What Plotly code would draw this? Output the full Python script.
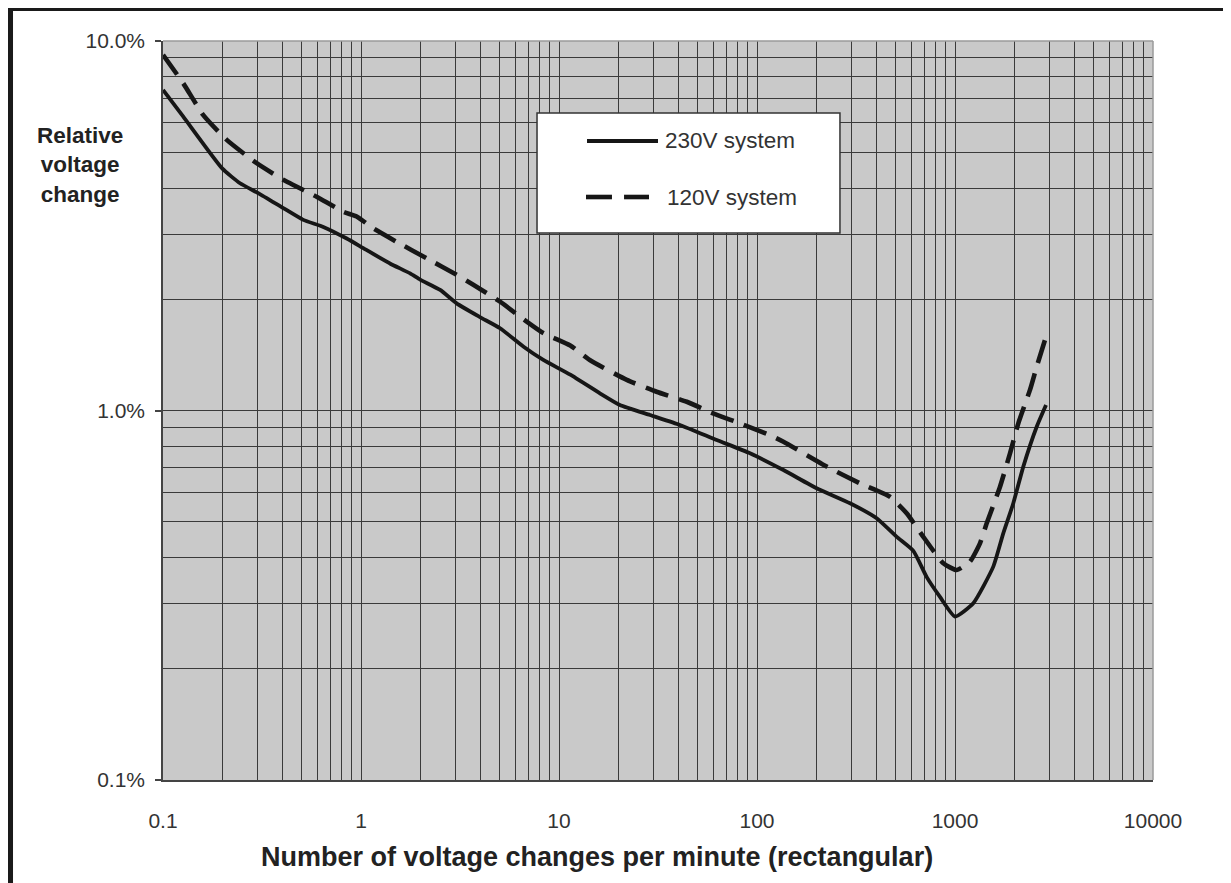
import plotly.graph_objects as go

# ---- data ----
x_230 = [0.1, 0.1266, 0.199, 0.245, 0.304, 0.405, 0.511, 0.645, 0.847, 1.027, 1.40, 1.77, 1.99,
         2.51, 3.04, 3.99, 5.04, 6.60, 8.33, 11.4, 16.1, 20.3, 28.8, 40.8, 62.6, 92.2, 136, 200,
         295, 402, 508, 616, 720, 840, 1000, 1237, 1561, 1753, 1970, 2213, 2586, 2882]
y_230 = [7.37, 6.24, 4.52, 4.12, 3.87, 3.53, 3.28, 3.14, 2.92, 2.75, 2.50, 2.35, 2.26,
         2.12, 1.95, 1.79, 1.67, 1.49, 1.37, 1.25, 1.113, 1.035, 0.972, 0.914, 0.832, 0.766, 0.690, 0.616,
         0.561, 0.511, 0.455, 0.417, 0.354, 0.313, 0.277, 0.301, 0.378, 0.465, 0.561, 0.705, 0.904, 1.035]

x_120 = [0.1, 0.1266, 0.1598, 0.2098, 0.2973, 0.405, 0.597, 0.814, 0.951, 1.154, 1.515, 2.15,
         3.04, 3.69, 5.04, 6.87, 8.33, 11.4, 14.3, 22.0, 31.1, 44.2, 59.0, 82.1, 116, 136, 225,
         331, 470, 570, 692, 873, 1020, 1191, 1337, 1446, 1688, 1896, 2088, 2392, 2586, 2882]
y_120 = [9.17, 7.68, 6.30, 5.40, 4.67, 4.21, 3.79, 3.45, 3.35, 3.11, 2.86, 2.58,
         2.33, 2.19, 1.97, 1.74, 1.62, 1.50, 1.37, 1.21, 1.124, 1.056, 0.986, 0.923, 0.858, 0.823, 0.705,
         0.635, 0.584, 0.527, 0.455, 0.386, 0.370, 0.390, 0.437, 0.495, 0.622, 0.766, 0.923, 1.137, 1.314, 1.584]

series_names = ["230V system", "120V system"]

x_major = [0.1, 1, 10, 100, 1000, 10000]
x_major_text = ["0.1", "1", "10", "100", "1000", "10000"]
y_major = [0.1, 1, 10]
y_major_text = ["0.1%", "1.0%", "10.0%"]
digits = [2, 3, 4, 5, 6, 7, 8, 9]
x_minor = [d * m for m in [0.1, 1, 10, 100, 1000] for d in digits]
y_minor = [d * m for m in [0.1, 1] for d in digits]

FONT = "Liberation Sans, Arial, sans-serif"
GRID = "#3a3a3a"
LINE = "#161616"

fig = go.Figure()
fig.add_trace(go.Scatter(x=x_230, y=y_230, mode="lines", name=series_names[0],
                         line=dict(color=LINE, width=3.8, shape="spline", smoothing=0.5),
                         showlegend=False))
fig.add_trace(go.Scatter(x=x_120, y=y_120, mode="lines", name=series_names[1],
                         line=dict(color=LINE, width=4.6, dash="24px,11px", shape="spline", smoothing=0.5),
                         showlegend=False))

# the page body adds an 8px offset, so the figure is 8px smaller than the window
fig.update_layout(
    width=1223, height=875,
    margin=dict(l=155, r=78, t=33, b=103),
    paper_bgcolor="white",
    plot_bgcolor="#c9c9c9",
    font=dict(family=FONT, size=21, color="#333333"),
    xaxis=dict(type="log", range=[-1, 4], tickvals=x_major, ticktext=x_major_text,
               showgrid=True, gridcolor=GRID, gridwidth=1.4, ticks="",
               ticklabelstandoff=21,
               minor=dict(tickvals=x_minor, showgrid=True, gridcolor=GRID, gridwidth=1.4, ticks=""),
               showline=True, linecolor="#444444", linewidth=1.5, zeroline=False,
               tickfont=dict(family=FONT, size=21, color="#333333")),
    yaxis=dict(type="log", range=[-1, 1], tickvals=y_major, ticktext=y_major_text,
               showgrid=True, gridcolor=GRID, gridwidth=1.4, ticks="outside", ticklen=6,
               tickcolor="#444444", tickwidth=1.5, ticklabelstandoff=6,
               minor=dict(tickvals=y_minor, showgrid=True, gridcolor=GRID, gridwidth=1.4, ticks=""),
               showline=True, linecolor="#444444", linewidth=1.5, zeroline=False,
               tickfont=dict(family=FONT, size=21, color="#333333")),
)

shapes = []
# plot-area top/right border (light gray)
shapes.append(dict(type="line", xref="paper", yref="paper", x0=0, x1=1, y0=1, y1=1,
                   line=dict(color="#9a9a9a", width=1.5)))
shapes.append(dict(type="line", xref="paper", yref="paper", x0=1, x1=1, y0=0, y1=1,
                   line=dict(color="#9a9a9a", width=1.5)))
# outer frame
shapes.append(dict(type="rect", xref="paper", yref="paper", x0=-0.1566, x1=1.0788, y0=1.0406, y1=1.06,
                   fillcolor="#1a1a1a", line=dict(width=0)))
shapes.append(dict(type="rect", xref="paper", yref="paper", x0=-0.1566, x1=-0.1515, y0=-0.1394, y1=1.06,
                   fillcolor="#1a1a1a", line=dict(width=0)))
shapes.append(dict(type="line", xref="paper", yref="paper", x0=1.0768, x1=1.0768, y0=-0.1394, y1=1.042,
                   line=dict(color="#dddddd", width=1.5)))
# legend box
shapes.append(dict(type="rect", xref="paper", yref="paper", x0=0.3778, x1=0.6838, y0=0.7402, y1=0.9026,
                   fillcolor="white", line=dict(color="#333333", width=1.5), layer="above"))
shapes.append(dict(type="line", xref="paper", yref="paper", x0=0.4283, x1=0.5, y0=0.8647, y1=0.8647,
                   line=dict(color=LINE, width=3.8), layer="above"))
shapes.append(dict(type="line", xref="paper", yref="paper", x0=0.4273, x1=0.4535, y0=0.7889, y1=0.7889,
                   line=dict(color=LINE, width=4.6), layer="above"))
shapes.append(dict(type="line", xref="paper", yref="paper", x0=0.4657, x1=0.4909, y0=0.7889, y1=0.7889,
                   line=dict(color=LINE, width=4.6), layer="above"))
fig.update_layout(shapes=shapes)

annotations = [
    dict(text=series_names[0], xref="paper", yref="paper", x=0.5051, y=0.8647, xanchor="left",
         yanchor="middle", showarrow=False, font=dict(family=FONT, size=22.5, color="#333333")),
    dict(text=series_names[1], xref="paper", yref="paper", x=0.5071, y=0.7889, xanchor="left",
         yanchor="middle", showarrow=False, font=dict(family=FONT, size=22.5, color="#333333")),
    dict(text="<b>Relative<br>voltage<br>change</b>", xref="paper", yref="paper", x=-0.0838, y=0.8322,
         xanchor="center", yanchor="middle", showarrow=False, align="center",
         font=dict(family=FONT, size=22.5, color="#222222")),
    dict(text="<b>Number of voltage changes per minute (rectangular)</b>", xref="paper", yref="paper",
         x=0.438, y=-0.1042, xanchor="center", yanchor="middle", showarrow=False,
         font=dict(family=FONT, size=27, color="#222222")),
]
fig.update_layout(annotations=annotations)

fig.write_html("out.html")
